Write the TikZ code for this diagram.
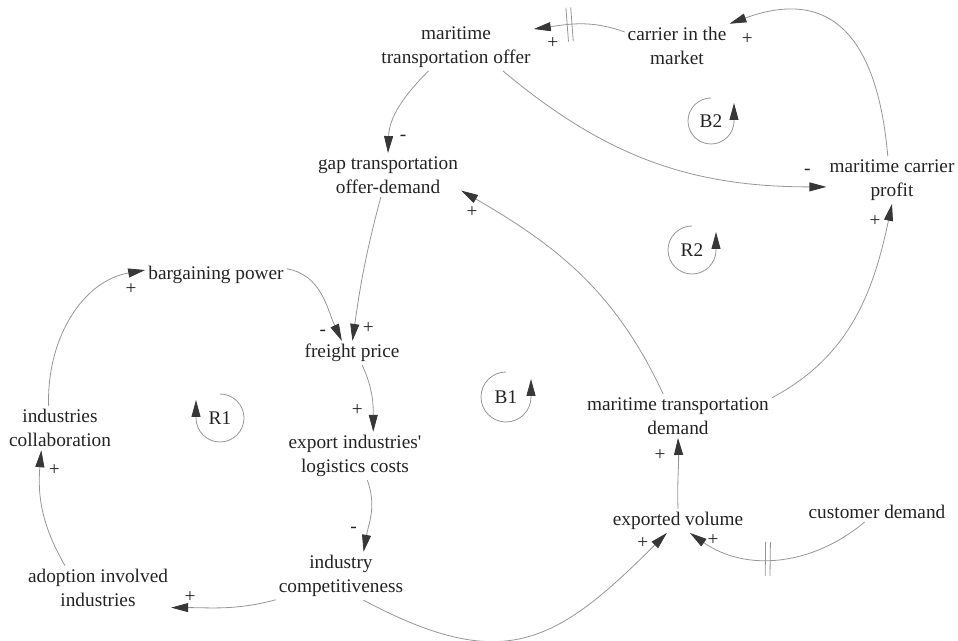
\documentclass[tikz,border=0pt]{standalone}
\usepackage{fontspec}
\setmainfont{Liberation Serif}
\usetikzlibrary{arrows.meta}
\definecolor{linkgray}{RGB}{150,150,150}
\definecolor{tipgray}{RGB}{55,55,55}
\definecolor{inkgray}{RGB}{35,35,35}
\newcommand{\delaybars}{\rule[-17pt]{.8pt}{34pt}\hspace{4pt}\rule[-17pt]{.8pt}{34pt}}
\begin{document}
\begin{tikzpicture}[x=1pt,y=1pt]
\tikzstyle{var}=[align=center,inner sep=3pt,text=inkgray,font=\fontsize{19.3pt}{24.5pt}\selectfont]
\tikzstyle{link}=[color=linkgray,line width=.8pt,-{Triangle[length=17pt,width=9pt,color=tipgray]}]
\tikzstyle{pol}=[inner sep=0pt,text=inkgray,font=\fontsize{19.3pt}{24.5pt}\selectfont]
\tikzstyle{delaymark}=[sloped,inner sep=0pt,text=linkgray,pos=.62]
\useasboundingbox (0,0) rectangle (958,640);
% variables
\node[var] (offer) at (456,593) {maritime\\transportation offer};
\node[var] (carrier) at (677,594) {carrier in the\\market};
\node[var] (gap) at (388,465) {gap transportation\\offer-demand};
\node[var] (profit) at (892,460) {maritime carrier\\profit};
\node[var] (bargain) at (216,365) {bargaining power};
\node[var] (freight) at (352,287) {freight price};
\node[var] (logcost) at (355,184) {export industries\textquotesingle\\logistics costs};
\node[var] (compet) at (341,64) {industry\\competitiveness};
\node[var] (adoption) at (98,52) {adoption involved\\industries};
\node[var] (collab) at (60,212) {industries\\collaboration};
\node[var] (demand) at (678,224) {maritime transportation\\demand};
\node[var] (exported) at (678,119) {exported volume};
\node[var] (customer) at (877,128) {customer demand};
% loops
\node[var] (R1) at (220,222) {R1};
\node[var] (B1) at (506,243) {B1};
\node[var] (R2) at (692,390) {R2};
\node[var] (B2) at (711,519) {B2};
\draw[link] ([shift={(90:24pt)}]R1.center) arc[start angle=90,end angle=-180,radius=24pt] -- ++(0,18pt);
\draw[link] ([shift={(90:25pt)}]B1.center) arc[start angle=90,end angle=360,radius=25pt] -- ++(0,18pt);
\draw[link] ([shift={(90:24pt)}]R2.center) arc[start angle=90,end angle=360,radius=24pt] -- ++(0,18pt);
\draw[link] ([shift={(90:23pt)}]B2.center) arc[start angle=90,end angle=360,radius=23pt] -- ++(0,18pt);
% links
\path[]
    (carrier.165) [link] edge[out=160,in=8] node[delaymark] {\delaybars} node[pol,at end,xshift=19pt,yshift=-14pt] {+} (offer.13)
    (profit.100) [link] edge[out=95,in=20,looseness=1.4] node[pol,at end,xshift=18pt,yshift=-15pt] {+} (carrier.23)
    (offer.221) [link] edge[out=225,in=88] node[pol,at end,xshift=15pt,yshift=15pt] {-} (gap.north)
    (offer.333) [link] edge[out=-40,in=180] node[pol,at end,xshift=-19pt,yshift=15pt] {-} (profit.186);
\path[]
    (gap.252) [link] edge[out=255,in=82] node[pol,at end,xshift=16pt,yshift=13pt] {+} (freight.88)
    (bargain.5) [link] edge[out=-10,in=115] node[pol,at end,xshift=-19pt,yshift=8pt] {-} (freight.130)
    (freight.310) [link] edge[out=-65,in=90] node[pol,at end,xshift=-16pt,yshift=22pt] {+} (logcost.53)
    (logcost.297) [link] edge[out=-70,in=80] node[pol,at end,xshift=-10pt,yshift=22pt] {-} (compet.47)
    (compet.200) [link] edge[out=195,in=0] node[pol,at end,xshift=19pt,yshift=11pt] {+} (adoption.345)
    (adoption.146) [link] edge[out=120,in=265] node[pol,at end,xshift=13pt,yshift=-20pt] {+} (collab.230)
    (collab.117) [link] edge[out=92,in=190] node[pol,at end,xshift=-14pt,yshift=-19pt] {+} (bargain.176);
\path[]
    (compet.313) [link] edge[out=-28,in=225,looseness=1.3] node[pol,at end,xshift=-24pt,yshift=-10pt] {+} (exported.227)
    (exported.north) [link] edge[out=92,in=272] node[pol,at end,xshift=-18pt,yshift=-17pt] {+} (demand.south)
    (customer.219) [link] edge[out=220,in=-35] node[delaymark,pos=.56] {\delaybars} node[pol,at end,xshift=23pt,yshift=-7pt] {+} (exported.315)
    (demand.124) [link] edge[out=115,in=-30] node[pol,at end,xshift=11pt,yshift=-22pt] {+} (gap.348)
    (demand.11) [link] edge[out=28,in=258] node[pol,at end,xshift=-17pt,yshift=-17pt] {+} (profit.south);
\end{tikzpicture}
\end{document}
